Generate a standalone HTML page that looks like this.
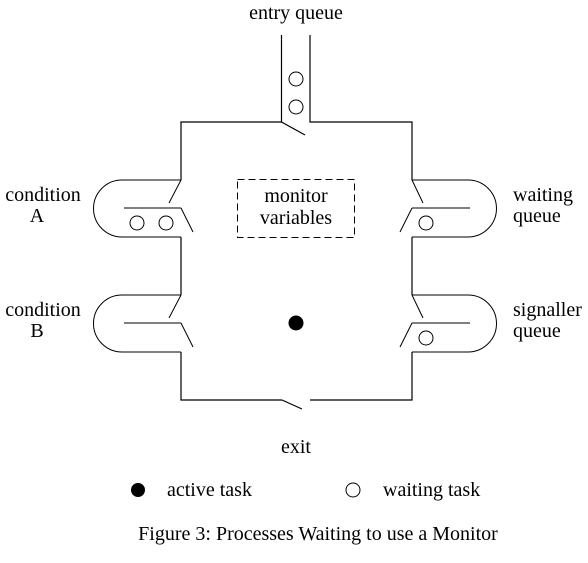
<!DOCTYPE html>
<html><head><meta charset="utf-8"><style>
html,body{margin:0;padding:0;background:#fff;}
svg text{font-family:"Liberation Serif",serif;font-size:20px;fill:#000;}
</style></head><body>
<svg width="588" height="558" viewBox="0 0 588 558">
<g stroke="#000" stroke-width="1.2" fill="none">
<path d="M281.5 35 V122 H181 V180 M181 237 V295 M181 352 V400 H282 M310 400 H412 V352 M412 295 V237 M412 180 V122 H310 V35"/>
<path d="M281.5 122 L305 135"/>
<path d="M282 400 L302 409"/>
</g>
<g stroke="#000" stroke-width="1" fill="none">
<path d="M181 180 H122 A28.5 28.5 0 0 0 122 237 H181"/>
<path d="M124 208 H181"/>
<path d="M181 180 L169 203 M181 208 L193 232"/>
<circle cx="137" cy="223" r="7"/><circle cx="166" cy="223" r="7"/>
</g>
<g stroke="#000" stroke-width="1" fill="none">
<path d="M181 295 H122 A28.5 28.5 0 0 0 122 352 H181"/>
<path d="M124 323 H181"/>
<path d="M181 295 L169 318 M181 323 L193 347"/>
</g>
<g stroke="#000" stroke-width="1" fill="none">
<path d="M412 180 H468 A28.5 28.5 0 0 1 468 237 H412"/>
<path d="M412 208 H470"/>
<path d="M412 180 L423 203 M412 208 L400 232"/>
<circle cx="426" cy="223" r="7"/>
</g>
<g stroke="#000" stroke-width="1" fill="none">
<path d="M412 295 H468 A28.5 28.5 0 0 1 468 352 H412"/>
<path d="M412 323 H470"/>
<path d="M412 295 L423 318 M412 323 L400 347"/>
<circle cx="426" cy="338" r="7"/>
</g>
<g stroke="#000" stroke-width="1" fill="none">
<circle cx="296" cy="79" r="7"/><circle cx="296" cy="107" r="7"/>
</g>
<rect x="237.5" y="179.5" width="117" height="58" fill="none" stroke="#000" stroke-width="1" stroke-dasharray="7,4"/>
<text x="296" y="202" text-anchor="middle"><tspan x="296">monitor</tspan><tspan x="296" dy="22">variables</tspan></text>
<circle cx="296" cy="323" r="7.5" fill="#000"/>
<text x="296" y="19" text-anchor="middle">entry queue</text>
<text x="43" y="201" text-anchor="middle"><tspan x="43">condition</tspan><tspan x="37" dy="21">A</tspan></text>
<text x="43" y="316" text-anchor="middle"><tspan x="43">condition</tspan><tspan x="37" dy="21">B</tspan></text>
<text x="513" y="201"><tspan x="513">waiting</tspan><tspan x="513" dy="21">queue</tspan></text>
<text x="513" y="316"><tspan x="513">signaller</tspan><tspan x="513" dy="21">queue</tspan></text>
<text x="296" y="453" text-anchor="middle">exit</text>
<g>
<circle cx="138" cy="490" r="7" fill="#000"/>
<text x="167" y="496">active task</text>
<circle cx="353" cy="490" r="7" fill="none" stroke="#000"/>
<text x="383" y="496">waiting task</text>
</g>
<text x="318" y="540" text-anchor="middle">Figure 3: Processes Waiting to use a Monitor</text>
</svg>
</body></html>
